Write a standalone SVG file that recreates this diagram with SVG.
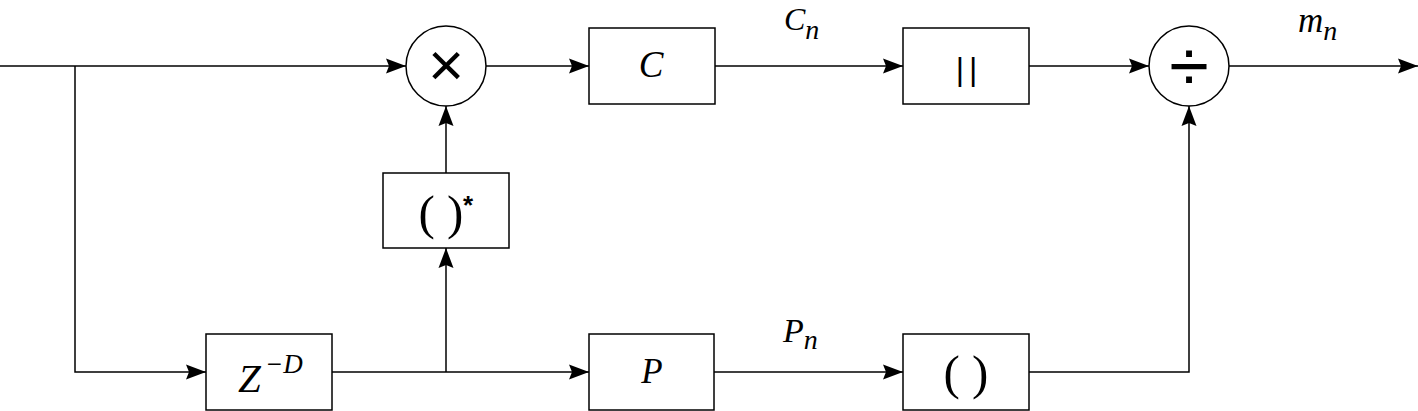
<svg xmlns="http://www.w3.org/2000/svg" width="1418" height="411" viewBox="0 0 1418 411">
<style>
.b{fill:#fff;stroke:#000;stroke-width:1.5}
.l{fill:none;stroke:#000;stroke-width:1.5}
.m{font-family:"Liberation Serif",serif;font-style:italic;fill:#000}
.r{font-family:"Liberation Serif",serif;fill:#000}
.s{font-family:"Liberation Sans",sans-serif;fill:#000}
</style>
<defs>
<marker id="a" markerWidth="20" markerHeight="16" refX="20" refY="8" orient="auto" markerUnits="userSpaceOnUse">
<path d="M0,0.5 L20,8 L0,15.5 L3,8 Z" fill="#000"/>
</marker>
</defs>
<g id="connectors" class="l">
<path d="M0,66 H406" marker-end="url(#a)"/>
<path d="M75,66 V372 H206" marker-end="url(#a)"/>
<path d="M332,372 H589" marker-end="url(#a)"/>
<path d="M446,372 V248" marker-end="url(#a)"/>
<path d="M446,173 V106" marker-end="url(#a)"/>
<path d="M486,66 H589" marker-end="url(#a)"/>
<path d="M715,66 H903" marker-end="url(#a)"/>
<path d="M1029,66 H1149" marker-end="url(#a)"/>
<path d="M1229,66 H1418" marker-end="url(#a)"/>
<path d="M714,372 H903" marker-end="url(#a)"/>
<path d="M1029,372 H1189 V106" marker-end="url(#a)"/>
</g>
<g id="mult">
<circle class="b" cx="446" cy="66" r="40"/>
<text class="s" x="446" y="86" font-size="62" text-anchor="middle">×</text>
</g>
<g id="boxC">
<rect class="b" x="589" y="28" width="126" height="76"/>
<text class="m" x="651" y="77" font-size="37" text-anchor="middle">C</text>
</g>
<g id="boxAbs">
<rect class="b" x="903" y="28" width="126" height="76"/>
<text class="s" x="969" y="80" font-size="32" letter-spacing="5" text-anchor="middle">||</text>
</g>
<g id="div">
<circle class="b" cx="1189" cy="66" r="40"/>
<text class="s" x="1189" y="91" font-size="72" text-anchor="middle">÷</text>
</g>
<g id="boxConj">
<rect class="b" x="383" y="173" width="126" height="75"/>
<text class="r" x="441" y="229" font-size="49" text-anchor="middle">( )</text>
<text class="s" x="468" y="214" font-size="26" font-weight="bold" text-anchor="middle">*</text>
</g>
<g id="boxDelay">
<rect class="b" x="206" y="334" width="126" height="76"/>
<text class="m" x="238" y="392" font-size="41">Z</text>
<text class="m" x="265" y="373" font-size="27">−D</text>
</g>
<g id="boxP">
<rect class="b" x="589" y="334" width="125" height="76"/>
<text class="m" x="652" y="383" font-size="35" text-anchor="middle">P</text>
</g>
<g id="boxParen">
<rect class="b" x="903" y="334" width="126" height="76"/>
<text class="r" x="966" y="389" font-size="49" text-anchor="middle">( )</text>
</g>
<g id="labels">
<text class="m" x="784" y="30" font-size="32">C<tspan font-size="28" dy="9">n</tspan></text>
<text class="m" x="783" y="342" font-size="34">P<tspan font-size="28" dy="7">n</tspan></text>
<text class="m" x="1298" y="32" font-size="35">m<tspan font-size="28" dy="8">n</tspan></text>
</g>
</svg>
